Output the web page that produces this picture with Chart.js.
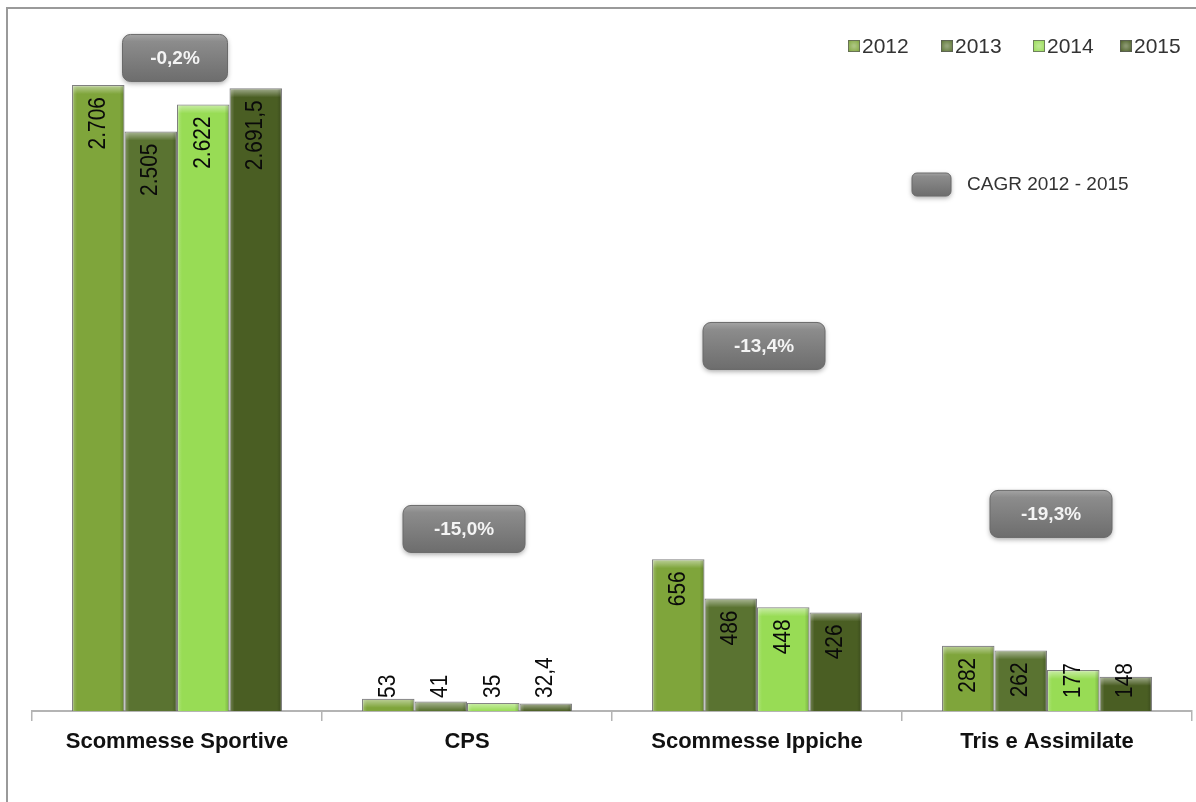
<!DOCTYPE html>
<html>
<head>
<meta charset="utf-8">
<title>Raccolta giochi 2012-2015</title>
<script src="https://cdn.jsdelivr.net/npm/chart.js@4.4.0/dist/chart.umd.min.js"></script>
<style>
  html, body { margin: 0; padding: 0; background: #fff; }
  #wrap { width: 1196px; height: 802px; position: relative; }
</style>
</head>
<body>
<div id="wrap"><canvas id="chart" width="1196" height="802"></canvas></div>
<script>
// dati
const categories = ['Scommesse Sportive', 'CPS', 'Scommesse Ippiche', 'Tris e Assimilate'];
const years = ['2012', '2013', '2014', '2015'];
const values2012 = [2706, 53, 656, 282];
const values2013 = [2505, 41, 486, 262];
const values2014 = [2622, 35, 448, 177];
const values2015 = [2691.5, 32.4, 426, 148];
const cagrLabels = ['-0,2%', '-15,0%', '-13,4%', '-19,3%'];
const cagrLegendText = 'CAGR 2012 - 2015';

const yearColors = ['#7fa53b', '#5a7331', '#98dc55', '#4a5e23'];

// formato italiano: 2706 -> 2.706, 32.4 -> 32,4
function fmtIt(v) {
  const parts = String(v).split('.');
  const int = parts[0].replace(/\B(?=(\d{3})+(?!\d))/g, '.');
  return parts[1] ? int + ',' + parts[1] : int;
}

function roundRect(ctx, x, y, w, h, r) {
  ctx.beginPath();
  ctx.moveTo(x + r, y);
  ctx.arcTo(x + w, y, x + w, y + h, r);
  ctx.arcTo(x + w, y + h, x, y + h, r);
  ctx.arcTo(x, y + h, x, y, r);
  ctx.arcTo(x, y, x + w, y, r);
  ctx.closePath();
}

function greyBox(ctx, x, y, w, h, r) {
  ctx.save();
  ctx.shadowColor = 'rgba(0,0,0,0.35)';
  ctx.shadowBlur = 5;
  ctx.shadowOffsetY = 2;
  const g = ctx.createLinearGradient(0, y, 0, y + h);
  g.addColorStop(0, '#a3a3a3');
  g.addColorStop(0.15, '#8c8c8c');
  g.addColorStop(1, '#6d6d6d');
  roundRect(ctx, x, y, w, h, r);
  ctx.fillStyle = g;
  ctx.fill();
  ctx.restore();
  ctx.save();
  roundRect(ctx, x, y, w, h, r);
  ctx.strokeStyle = '#6a6a6a';
  ctx.lineWidth = 1;
  ctx.stroke();
  ctx.restore();
}

// cornice in alto e a sinistra
const frame = {
  id: 'frame',
  beforeDraw(chart) {
    const ctx = chart.ctx;
    ctx.save();
    ctx.fillStyle = '#fff';
    ctx.fillRect(0, 0, chart.width, chart.height);
    ctx.strokeStyle = '#9a9a9a';
    ctx.lineWidth = 2;
    ctx.beginPath();
    ctx.moveTo(7, chart.height);
    ctx.lineTo(7, 8);
    ctx.lineTo(chart.width, 8);
    ctx.stroke();
    ctx.restore();
  }
};

// effetto rilievo sulle barre
const bevel = {
  id: 'bevel',
  afterDatasetsDraw(chart) {
    const ctx = chart.ctx;
    chart.data.datasets.forEach((ds, i) => {
      chart.getDatasetMeta(i).data.forEach(bar => {
        const { x, y, base, width } = bar.getProps(['x', 'y', 'base', 'width'], true);
        const l = x - width / 2, r = x + width / 2, h = base - y;
        if (h < 2) return;
        ctx.save();
        let g = ctx.createLinearGradient(0, y, 0, y + Math.min(9, h));
        g.addColorStop(0, 'rgba(255,255,255,0.5)');
        g.addColorStop(1, 'rgba(255,255,255,0)');
        ctx.fillStyle = g;
        ctx.fillRect(l + 1, y + 1, width - 2, Math.min(9, h - 1));
        g = ctx.createLinearGradient(l, 0, l + 5, 0);
        g.addColorStop(0, 'rgba(255,255,255,0.25)');
        g.addColorStop(1, 'rgba(255,255,255,0)');
        ctx.fillStyle = g;
        ctx.fillRect(l + 1, y + 1, 5, h - 1);
        g = ctx.createLinearGradient(r - 5, 0, r, 0);
        g.addColorStop(0, 'rgba(0,0,0,0)');
        g.addColorStop(1, 'rgba(0,0,0,0.22)');
        ctx.fillStyle = g;
        ctx.fillRect(r - 6, y + 1, 5, h - 1);
        ctx.restore();
      });
    });
  }
};

// etichette ruotate dentro le barre
const barLabels = {
  id: 'barLabels',
  afterDatasetsDraw(chart) {
    const ctx = chart.ctx;
    const squeeze = 0.91;
    ctx.save();
    ctx.font = '23px "Liberation Sans", Arial, sans-serif';
    ctx.fillStyle = '#0a0a0a';
    ctx.textAlign = 'center';
    ctx.textBaseline = 'middle';
    chart.data.datasets.forEach((ds, i) => {
      chart.getDatasetMeta(i).data.forEach((bar, j) => {
        const { x, y, base } = bar.getProps(['x', 'y', 'base'], true);
        const txt = fmtIt(ds.data[j]);
        const w = ctx.measureText(txt).width * squeeze;
        let top = y + 12;
        if (top + w > base - 13) top = base - 13 - w;
        ctx.save();
        ctx.translate(x - 1, top + w / 2);
        ctx.rotate(-Math.PI / 2);
        ctx.scale(squeeze, 1);
        ctx.fillText(txt, 0, 1);
        ctx.restore();
      });
    });
    ctx.restore();
  }
};

// riquadri CAGR e legenda
const cagr = {
  id: 'cagr',
  afterDraw(chart, args, opts) {
    const ctx = chart.ctx;
    const xs = chart.scales.x, ys = chart.scales.y;
    ctx.save();
    opts.labels.forEach((txt, i) => {
      const cx = xs.getPixelForValue(i) + opts.shift[i];
      const cy = ys.getPixelForValue(opts.anchors[i]);
      const w = opts.widths[i], h = opts.height;
      greyBox(ctx, cx - w / 2, cy - h / 2, w, h, 8);
      ctx.font = 'bold 19px "Liberation Sans", Arial, sans-serif';
      ctx.fillStyle = '#f4f4f4';
      ctx.textAlign = 'center';
      ctx.textBaseline = 'middle';
      ctx.fillText(txt, cx, cy + 1);
    });
    const k = opts.key;
    greyBox(ctx, k.x, k.y, 39, 23, 5);
    ctx.font = '19px "Liberation Sans", Arial, sans-serif';
    ctx.fillStyle = '#333';
    ctx.textAlign = 'left';
    ctx.textBaseline = 'middle';
    ctx.fillText(opts.keyText, k.x + 55, k.y + 12);
    ctx.restore();
  }
};

// legenda anni in alto a destra
const yearLegend = {
  id: 'yearLegend',
  afterDraw(chart, args, opts) {
    const ctx = chart.ctx;
    ctx.save();
    ctx.font = '21px "Liberation Sans", Arial, sans-serif';
    ctx.textBaseline = 'middle';
    chart.data.datasets.forEach((ds, i) => {
      const x = opts.xs[i], y = opts.y;
      const g = ctx.createRadialGradient(x + 6, y, 1, x + 6, y, 8);
      g.addColorStop(0, 'rgba(255,255,255,0.35)');
      g.addColorStop(1, 'rgba(255,255,255,0)');
      ctx.fillStyle = ds.backgroundColor;
      ctx.fillRect(x, y - 6, 12, 12);
      ctx.fillStyle = g;
      ctx.fillRect(x, y - 6, 12, 12);
      ctx.strokeStyle = 'rgba(90,90,90,0.7)';
      ctx.lineWidth = 1;
      ctx.strokeRect(x + 0.5, y - 5.5, 11, 11);
      ctx.fillStyle = '#333';
      ctx.fillText(ds.label, x + 14, y + 1);
    });
    ctx.restore();
  }
};

const seriesValues = [values2012, values2013, values2014, values2015];

new Chart(document.getElementById('chart'), {
  type: 'bar',
  data: {
    labels: categories,
    datasets: years.map((yr, i) => ({
      label: yr,
      data: seriesValues[i],
      backgroundColor: yearColors[i],
      borderColor: 'rgba(105,105,105,0.85)',
      borderWidth: 1.2,
      categoryPercentage: 0.724,
      barPercentage: 1
    }))
  },
  options: {
    responsive: false,
    animation: false,
    devicePixelRatio: 1,
    layout: { padding: { left: 32, right: 4, top: 17, bottom: 0 } },
    scales: {
      y: { display: false, min: 0, max: 3000 },
      x: {
        grid: {
          display: true,
          drawOnChartArea: false,
          drawTicks: true,
          tickLength: 10,
          color: '#b4b4b4',
          lineWidth: 1.5,
          offset: true
        },
        border: { display: true, color: '#b4b4b4', width: 2 },
        ticks: {
          color: '#111',
          padding: 8,
          font: { family: '"Liberation Sans", Arial, sans-serif', size: 22, weight: 'bold' }
        },
        afterFit(scale) { scale.height = 91; }
      }
    },
    plugins: {
      legend: { display: false },
      tooltip: { enabled: false },
      cagr: {
        labels: cagrLabels,
        anchors: [2823, 787, 1578, 852],
        shift: [-2, -3, 7, 4],
        widths: [105, 122, 122, 122],
        height: 47,
        key: { x: 912, y: 173 },
        keyText: cagrLegendText
      },
      yearLegend: { xs: [848, 941, 1033, 1120], y: 46 }
    }
  },
  plugins: [frame, bevel, barLabels, cagr, yearLegend]
});
</script>
</body>
</html>
